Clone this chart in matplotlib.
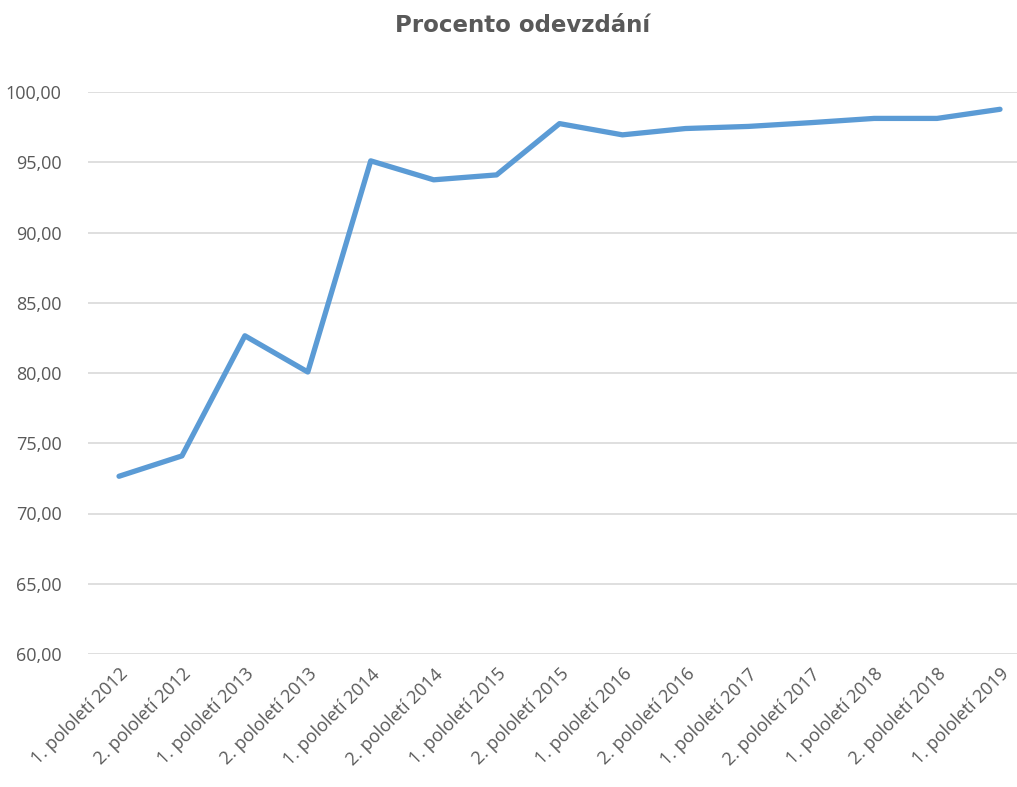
import matplotlib
matplotlib.use("Agg")
import matplotlib.pyplot as plt

categories = ["1. pololetí 2012", "2. pololetí 2012", "1. pololetí 2013", "2. pololetí 2013",
              "1. pololetí 2014", "2. pololetí 2014", "1. pololetí 2015", "2. pololetí 2015",
              "1. pololetí 2016", "2. pololetí 2016", "1. pololetí 2017", "2. pololetí 2017",
              "1. pololetí 2018", "2. pololetí 2018", "1. pololetí 2019"]
values = [72.65, 74.1, 82.65, 80.07, 95.1, 93.75, 94.1, 97.75, 96.95, 97.4,
          97.55, 97.82, 98.12, 98.12, 98.77]
y_ticks = [60, 65, 70, 75, 80, 85, 90, 95, 100]
title = "Procento odevzdání"

fig = plt.figure(figsize=(10.17, 7.87), dpi=100)
ax = fig.add_axes([88/1017, (787-654)/787, (1017-88)/1017, (654-92)/787])

x = list(range(len(categories)))
ax.plot(x, values, color="#5B9BD5", linewidth=3.8, solid_joinstyle="round", solid_capstyle="round", zorder=3, clip_on=False)

ax.set_ylim(60, 100)
ax.set_xlim(-0.493, 14.27)
ax.set_yticks(y_ticks)
ax.set_yticklabels([f"{v:.2f}".replace(".", ",") for v in y_ticks],
                   fontsize=13, color="#595959", family="Open Sans")
ax.set_xticks(x)
ax.set_xticklabels(categories, rotation=45, ha="right", rotation_mode="anchor",
                   fontsize=13, color="#595959", family="Open Sans")
ax.tick_params(axis="both", length=0)
ax.tick_params(axis="y", pad=19)
ax.tick_params(axis="x", pad=8)
ax.grid(axis="y", color="#D9D9D9", linewidth=1.2)
ax.set_axisbelow(True)
for s in ax.spines.values():
    s.set_visible(False)

fig.text(523/1017, 1 - 26/787, title, ha="center", va="center", fontsize=16.5,
         fontweight="bold", color="#595959", family="DejaVu Sans")

fig.savefig("out.png", dpi=100)
